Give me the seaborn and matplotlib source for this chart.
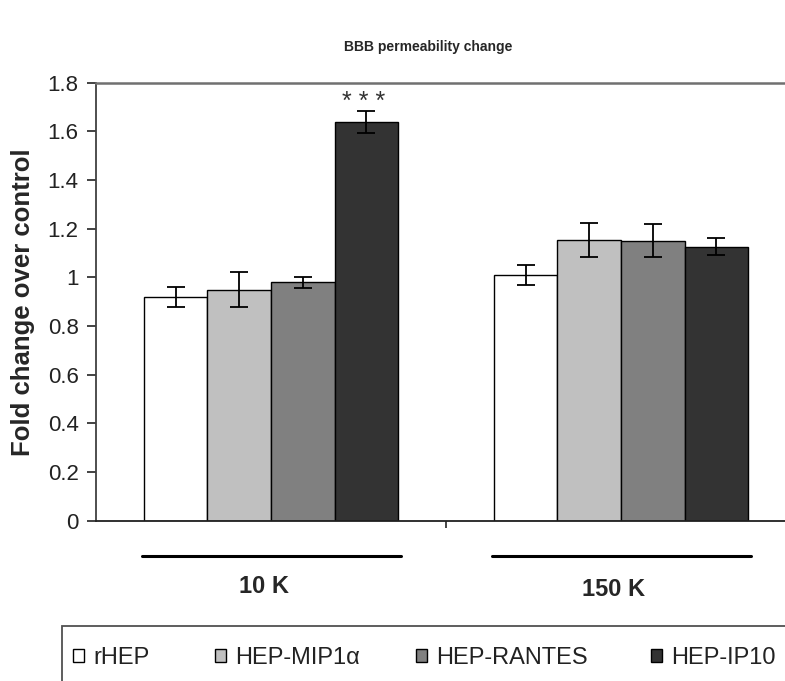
import pandas as pd
import matplotlib
matplotlib.use('Agg')
import matplotlib.pyplot as plt
import seaborn as sns
from matplotlib.patches import Rectangle

# dados
grupos = ['10 K', '150 K']
tratamentos = ['rHEP', 'HEP-MIP1α', 'HEP-RANTES', 'HEP-IP10']
valores_10k = [0.92, 0.95, 0.98, 1.64]
valores_150k = [1.01, 1.155, 1.15, 1.125]
erros_10k = [0.04, 0.072, 0.022, 0.045]
erros_150k = [0.04, 0.07, 0.068, 0.035]
cores = ['#FFFFFF', '#C0C0C0', '#808080', '#333333']
yticks = [0, 0.2, 0.4, 0.6, 0.8, 1, 1.2, 1.4, 1.6, 1.8]

df = pd.DataFrame({
    'grupo': [g for g in grupos for _ in tratamentos],
    'tratamento': tratamentos * 2,
    'valor': valores_10k + valores_150k,
    'erro': erros_10k + erros_150k,
})

sns.set_style('white')
plt.rcParams['font.family'] = ['Liberation Sans', 'DejaVu Sans']

fig = plt.figure(figsize=(7.85, 6.81), dpi=100)
ax = fig.add_axes([96 / 785, 1 - 520.7 / 681, 700 / 785, 438 / 681])

sns.barplot(data=df, x='grupo', y='valor', hue='tratamento', order=grupos,
            hue_order=tratamentos, palette=dict(zip(tratamentos, cores)),
            width=0.726, edgecolor='black', linewidth=1.0, errorbar=None,
            legend=False, ax=ax)

# barras de erro
for cont, trat in zip(ax.containers, tratamentos):
    for barra, grupo in zip(cont, grupos):
        x = barra.get_x() + barra.get_width() / 2
        h = barra.get_height()
        e = df[(df.grupo == grupo) & (df.tratamento == trat)]['erro'].iloc[0]
        ax.errorbar(x, h, yerr=e, color='black', capsize=6.5, capthick=1.3,
                    elinewidth=1.3)
        if grupo == '10 K' and trat == 'HEP-IP10':
            ax.annotate('* * *', (x, h + e), xytext=(-2, 1), textcoords='offset points',
                        ha='center', va='baseline', fontsize=18, color='#333333')

ax.set_ylim(0, 1.8)
ax.set_xlim(-0.5, 1.5)
ax.set_yticks(yticks)
ax.set_yticklabels(['%g' % v for v in yticks])
ax.set_xticks([0.5])
ax.set_xticklabels([''])
ax.tick_params(axis='y', direction='out', length=6.5, width=1.2, pad=6,
               labelsize=16, left=True, colors='#222222')
ax.tick_params(axis='x', direction='out', length=5, width=1.2, bottom=True)
ax.set_xlabel('')
ax.set_ylabel('Fold change over control', fontsize=18.5, fontweight='bold', labelpad=9)

ax.spines['right'].set_visible(False)
ax.spines['top'].set_color('#707070')
ax.spines['top'].set_linewidth(1.8)
ax.spines['left'].set_color('#404040')
ax.spines['left'].set_linewidth(1.3)
ax.spines['bottom'].set_color('#202020')
ax.spines['bottom'].set_linewidth(1.3)

# linhas e rótulos dos grupos
trans = ax.get_xaxis_transform()
for i, g in enumerate(grupos):
    ax.plot([i - 0.37, i + 0.37], [-0.08, -0.08], color='black', lw=2.2,
            transform=trans, clip_on=False)
    ax.annotate(g, (i, -0.151 - 0.007 * i), xycoords=trans, xytext=(-5, 0),
                textcoords='offset points', ha='center', va='center',
                fontsize=17, fontweight='bold')

fig.text(428 / 785, 1 - 47 / 681, 'BBB permeability change', ha='center',
         va='center', fontsize=10, fontweight='bold')

# caixa da legenda
fig.patches.append(Rectangle((62 / 785, -0.1), 1.0, 0.1 + 55 / 681,
                             transform=fig.transFigure, facecolor='white',
                             edgecolor='#505050', linewidth=1.3))
# uma entrada por legenda, para posicionar como no original
pos_legenda = [73, 215, 416, 651]
for trat, cor, px in zip(tratamentos, cores, pos_legenda):
    h = Rectangle((0, 0), 1, 1, facecolor=cor, edgecolor='black', linewidth=1.0)
    fig.legend([h], [trat], loc='center left',
               bbox_to_anchor=(px / 785, 1 - 658 / 681), frameon=False,
               fontsize=17, handlelength=0.45, handleheight=0.45,
               handletextpad=0.4, borderpad=0, borderaxespad=0,
               labelcolor='#222222')

plt.savefig('out.png', dpi=100)
